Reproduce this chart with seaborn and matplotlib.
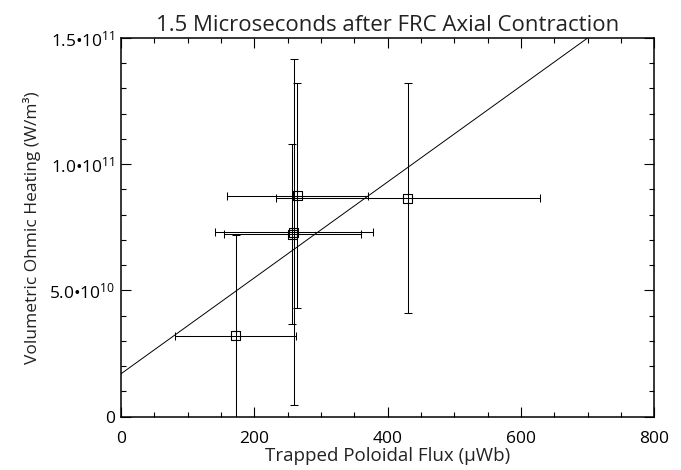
import numpy as np
import pandas as pd
import matplotlib
matplotlib.use("Agg")
import matplotlib.pyplot as plt
from matplotlib.ticker import FixedLocator, MultipleLocator
import seaborn as sns

# Measurements: trapped poloidal flux (uWb) vs volumetric ohmic heating (W/m^3)
flux = [172, 259.5, 257, 264.5, 430]
flux_err = [91, 119, 103, 106, 198]
heating = [3.20e10, 7.30e10, 7.23e10, 8.76e10, 8.66e10]
heating_err = [4.00e10, 6.85e10, 3.57e10, 4.46e10, 4.55e10]

# Linear fit through the measurements
fit_intercept = 1.70e10
fit_slope = 1.90e8

x_ticks = [0, 200, 400, 600, 800]
x_tick_labels = ["0", "200", "400", "600", "800"]
y_ticks = [0, 5.0e10, 1.0e11, 1.5e11]
y_tick_labels = ["0", "5.0•10$^{10}$", "1.0•10$^{11}$", "1.5•10$^{11}$"]

title = "1.5 Microseconds after FRC Axial Contraction"
x_label = "Trapped Poloidal Flux (µWb)"
y_label = "Volumetric Ohmic Heating (W/m³)"

sns.set_theme(style="ticks")
plt.rcParams["font.family"] = ["Open Sans", "DejaVu Sans"]
plt.rcParams["mathtext.fontset"] = "custom"
plt.rcParams["mathtext.rm"] = "Open Sans"
plt.rcParams["mathtext.it"] = "Open Sans:italic"
plt.rcParams["mathtext.bf"] = "Open Sans:bold"

df = pd.DataFrame({"flux": flux, "heating": heating})

fig = plt.figure(figsize=(6.81, 4.70), dpi=100)
ax = fig.add_axes([121 / 681, 1 - 416.7 / 470, (654.3 - 121) / 681, (416.7 - 38) / 470])

ax.errorbar(flux, heating, xerr=flux_err, yerr=heating_err, fmt="none",
            ecolor="black", elinewidth=0.75, capsize=2.6, capthick=0.75, zorder=2)
sns.scatterplot(data=df, x="flux", y="heating", marker="s", s=42,
                facecolor="none", edgecolor="black", linewidth=0.8, ax=ax, zorder=3)
ax.axline((0, fit_intercept), slope=fit_slope, color="black", linewidth=0.7, zorder=1)

ax.set_xlim(0, 800)
ax.set_ylim(0, 1.5e11)
ax.xaxis.set_major_locator(FixedLocator(x_ticks))
ax.set_xticklabels(x_tick_labels)
ax.xaxis.set_minor_locator(MultipleLocator(50))
ax.yaxis.set_major_locator(FixedLocator(y_ticks))
ax.set_yticklabels(y_tick_labels)
ax.yaxis.set_minor_locator(MultipleLocator(1e10))

ax.tick_params(which="both", direction="in", top=True, right=True, color="black", width=0.8)
ax.tick_params(which="major", length=7, labelsize=12.5, colors="black")
ax.tick_params(which="minor", length=3.6)
ax.tick_params(axis="x", which="major", pad=10)
ax.tick_params(axis="y", which="major", pad=4)

for side in ["left", "right", "top", "bottom"]:
    ax.spines[side].set_visible(True)
    ax.spines[side].set_color("black")
    ax.spines[side].set_linewidth(1.1)

ax.set_xlabel(x_label, fontsize=13.5, labelpad=0, color="#222222")
ax.set_ylabel(y_label, fontsize=12.5, labelpad=6, color="#222222")
ax.set_title(title, fontsize=16, pad=5, color="#222222")

fig.savefig("out.png", dpi=100)
